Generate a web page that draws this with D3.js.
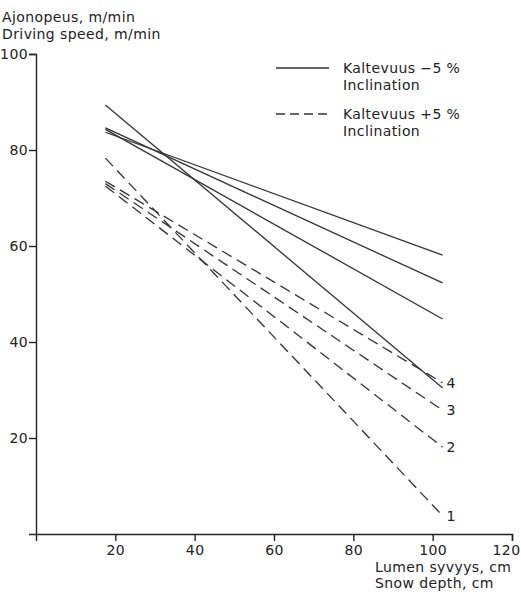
<!DOCTYPE html>
<html lang="en">
	<head>
		<meta charset="utf-8">
		<title>Driving speed vs snow depth</title>
		<script type="text/javascript" src="https://cdn.jsdelivr.net/npm/d3@7"></script>
		<style type="text/css">
			body { margin: 0; background: #fff; }
			text { font-family: "DejaVu Sans", sans-serif; fill: #222; }
		</style>
	</head>
	<body>
		<script type="text/javascript">
			// snow depth (cm) at both ends of every line
			var depths = [17.5, 102.5];

			// slope -5 % (solid lines), speed m/min
			var solidSeries = [
				[89.4, 30.4],
				[84.6, 52.3],
				[84.3, 44.8],
				[83.7, 58.1]
			];

			// slope +5 % (dashed lines), speed m/min
			var dashedSeries = [
				[78.3, 3.8],
				[72.5, 18.1],
				[73.0, 25.8],
				[73.5, 31.5]
			];
			var dashedLabels = ["1", "2", "3", "4"];

			var xTicks = [20, 40, 60, 80, 100, 120];
			var yTicks = [20, 40, 60, 80, 100];

			var width = 521, height = 592;
			var fs = 14;

			var svg = d3.select("body").append("svg")
						.attr("width", width)
						.attr("height", height);

			var xScale = d3.scaleLinear()
							.domain([0, 120])
							.range([36, 512]);

			var yScale = d3.scaleLinear()
							.domain([0, 100])
							.range([534, 54]);

			var xAxis = d3.axisBottom()
							.scale(xScale)
							.tickValues(xTicks)
							.tickSizeOuter(0)
							.tickSize(7)
							.tickPadding(4);

			var yAxis = d3.axisLeft()
							.scale(yScale)
							.tickValues(yTicks)
							.tickSizeOuter(0)
							.tickSize(7)
							.tickPadding(1);

			var gx = svg.append("g")
				.attr("transform", "translate(0," + yScale(0) + ")")
				.call(xAxis);

			var gy = svg.append("g")
				.attr("transform", "translate(" + xScale(0) + ",0)")
				.call(yAxis);

			svg.selectAll(".domain, .tick line")
				.attr("stroke", "#222")
				.attr("stroke-width", 1.4);

			svg.selectAll(".tick text")
				.attr("font-size", fs)
				.attr("font-family", "DejaVu Sans, sans-serif")
				.attr("letter-spacing", 0.4)
				.attr("fill", "#222");

			// last x label sits a bit left so it stays on the page
			gx.selectAll(".tick text")
				.attr("dx", function(d) { return d === 120 ? -6 : 0; });

			var line = d3.line()
				.x(function(d, i) { return xScale(depths[i]); })
				.y(function(d) { return yScale(d); });

			svg.append("g").selectAll("path")
				.data(solidSeries)
				.enter().append("path")
				.attr("d", line)
				.attr("fill", "none")
				.attr("stroke", "#333")
				.attr("stroke-width", 1.3);

			svg.append("g").selectAll("path")
				.data(dashedSeries)
				.enter().append("path")
				.attr("d", line)
				.attr("fill", "none")
				.attr("stroke", "#333")
				.attr("stroke-width", 1.3)
				.attr("stroke-dasharray", "11,6");

			// numbers at the right end of dashed lines
			svg.append("g").selectAll("text")
				.data(dashedSeries)
				.enter().append("text")
				.attr("x", xScale(depths[1]) + 4)
				.attr("y", function(d) { return yScale(d[1]); })
				.attr("dy", "0.35em")
				.attr("font-size", fs)
				.text(function(d, i) { return dashedLabels[i]; });

			// y axis title
			var yTitle = svg.append("text")
				.attr("x", 2)
				.attr("y", 22)
				.attr("font-size", fs)
				.attr("letter-spacing", 0.4);
			yTitle.append("tspan").attr("x", 2).text("Ajonopeus, m/min");
			yTitle.append("tspan").attr("x", 2).attr("dy", 17).text("Driving speed, m/min");

			// x axis title
			var xTitle = svg.append("text")
				.attr("x", 375)
				.attr("y", 572)
				.attr("font-size", fs)
				.attr("letter-spacing", 0.4);
			xTitle.append("tspan").attr("x", 375).text("Lumen syvyys, cm");
			xTitle.append("tspan").attr("x", 375).attr("dy", 16).text("Snow depth, cm");

			// legend
			var legendItems = [
				{dash: null, lines: ["Kaltevuus  \u22125 %", "Inclination"]},
				{dash: "9,5", lines: ["Kaltevuus  +5 %", "Inclination"]}
			];

			var legend = svg.append("g")
				.selectAll("g")
				.data(legendItems)
				.enter().append("g")
				.attr("transform", function(d, i) { return "translate(276," + (68 + i * 46) + ")"; });

			legend.append("line")
				.attr("x1", 0)
				.attr("x2", 53)
				.attr("stroke", "#333")
				.attr("stroke-width", 1.3)
				.attr("stroke-dasharray", function(d) { return d.dash; });

			legend.each(function(d) {
				var t = d3.select(this).append("text")
					.attr("x", 67)
					.attr("y", 0)
					.attr("dy", "0.35em")
					.attr("font-size", fs)
					.attr("letter-spacing", 0.4);
				t.append("tspan").attr("x", 67).text(d.lines[0]);
				t.append("tspan").attr("x", 67).attr("dy", 17).text(d.lines[1]);
			});
		</script>
	</body>
</html>
